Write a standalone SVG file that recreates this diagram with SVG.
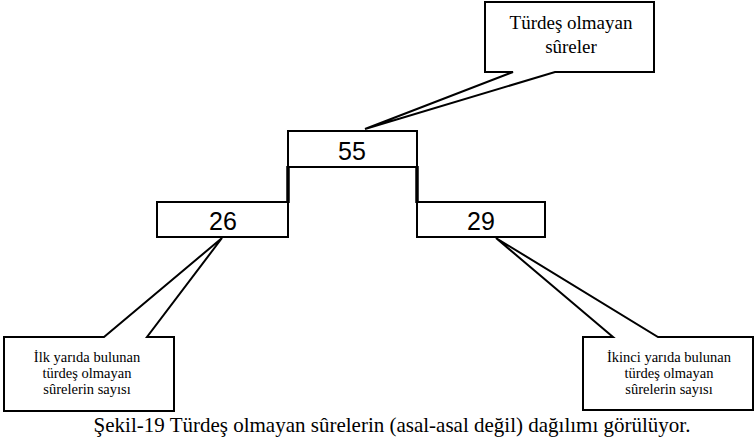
<svg xmlns="http://www.w3.org/2000/svg" width="756" height="443" viewBox="0 0 756 443">
<style>
.c{fill:#fff;stroke:#000;stroke-width:2;stroke-linejoin:miter}
.b{fill:#fff;stroke:#000;stroke-width:2}
.n{font-family:"Liberation Sans",Arial,sans-serif;font-size:25px;text-anchor:middle;fill:#000}
.t{font-family:"Liberation Serif","Times New Roman",serif;text-anchor:middle;fill:#000}
.s{font-size:14.5px}
</style>
<rect width="756" height="443" fill="#fff"/>
<g id="connectors">
<line x1="288" y1="166" x2="288" y2="203" stroke="#000" stroke-width="3.5"/>
<line x1="417" y1="166" x2="417" y2="203" stroke="#000" stroke-width="3.5"/>
</g>
<g id="callout-top">
<path class="c" d="M485,2 H654 V72 H555 L365,129 L513,72 H485 Z"/>
<text class="t" font-size="19" x="571" y="29">Türdeş olmayan</text>
<text class="t" font-size="19" x="571" y="53">sûreler</text>
</g>
<g id="node-55">
<rect class="b" x="288" y="131" width="129" height="36"/>
<text class="n" x="352" y="160">55</text>
</g>
<g id="node-26">
<rect class="b" x="157" y="202" width="131" height="35"/>
<text class="n" x="223" y="230">26</text>
</g>
<g id="node-29">
<rect class="b" x="417" y="202" width="128" height="35"/>
<text class="n" x="481" y="230">29</text>
</g>
<g id="callout-left">
<path class="c" d="M4,337 H104 L222,238 L147,337 H174 V411 H4 Z"/>
<text class="t s" x="87" y="362">İlk yarıda bulunan</text>
<text class="t s" x="87" y="378">türdeş olmayan</text>
<text class="t s" x="87" y="394">sûrelerin sayısı</text>
</g>
<g id="callout-right">
<path class="c" d="M583,337 H613 L496,238 L658,337 H753 V410 H583 Z"/>
<text class="t s" x="669" y="362">İkinci yarıda bulunan</text>
<text class="t s" x="669" y="378">türdeş olmayan</text>
<text class="t s" x="669" y="394">sûrelerin sayısı</text>
</g>
<g id="caption">
<text class="t" font-size="21" x="392" y="432">Şekil-19 Türdeş olmayan sûrelerin (asal-asal değil) dağılımı görülüyor.</text>
</g>
</svg>
